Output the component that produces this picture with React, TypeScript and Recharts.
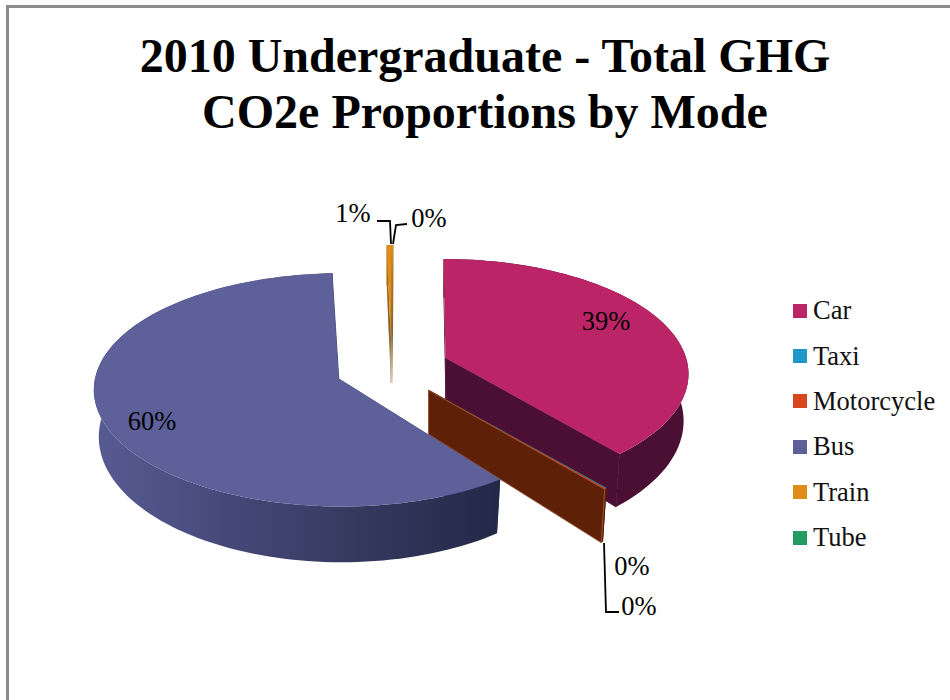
import React from "react";
import { PieChart, Pie, Legend } from "recharts";

// Share of total emissions per travel mode.
const modes = ["Car", "Taxi", "Motorcycle", "Bus", "Train", "Tube"];
const shares = [38.7, 0.1, 0.1, 60.3, 0.6, 0.02];
const swatches = ["#bb2568", "#2196c9", "#d6451b", "#5d6099", "#e08c18", "#239c63"];
const titleLines = ["2010 Undergraduate - Total GHG", "CO2e Proportions by Mode"];

const rows = modes.map((name, i) => ({ name, value: shares[i], fill: swatches[i] }));

const FONT = '"Liberation Serif", serif';
const TILT_Y = 0.474; // vertical squash of the disc
const EXPLODE_X = 57;
const EXPLODE_Y = 29;
const RIM_DROP = 47; // rim ellipse shift between top and bottom of the disc
const APEX_DROP = 44;
const BOTTOM_RX = 0.98;
const BOTTOM_RY = 1.075;

type Look = {
  sx: number; sy: number; rx: number; ry: number; warp: number;
  wall: string; edge?: string; hideFace?: boolean;
  label: [number, number]; leader?: string;
};

// Per-mode drawing style: rim ellipse tweaks, wall colours and label placement.
const looks: Record<string, Look> = {
  Car: { sx: -2, sy: 16, rx: 0.996, ry: 0.986, warp: -0.139, wall: "#4a0f33", label: [606, 321] },
  Taxi: { sx: 0, sy: 14, rx: 1.02, ry: 1.02, warp: -0.12, wall: "#5e2107", label: [632, 566] },
  Motorcycle: {
    sx: 0, sy: 14, rx: 1.025, ry: 1.02, warp: -0.12, wall: "#5e2107", edge: "#a8603f",
    label: [639, 606], leader: "604,543 606,612 619,612",
  },
  Bus: { sx: 3, sy: 11.5, rx: 1.008, ry: 1, warp: 0, wall: "url(#busWall)", label: [152, 421] },
  Train: {
    sx: 1, sy: 0, rx: 0.55, ry: 0.806, warp: 0, wall: "url(#trainWall)",
    label: [353, 213], leader: "377,221 390,221 391,244",
  },
  Tube: {
    sx: 1, sy: 0, rx: 0.55, ry: 0.806, warp: 0, wall: "url(#trainWall)", hideFace: true,
    label: [429, 218], leader: "407,224 396,225 393,244",
  },
};

const rad = (deg: number) => (deg * Math.PI) / 180;

// Unit-circle position of a clockwise-from-top angle, pulled by the perspective warp.
function rimUnit(theta: number, warp: number) {
  const u = Math.sin(rad(theta));
  const v = -Math.cos(rad(theta));
  const d = 1 + warp * v;
  return { u: (u * Math.sqrt(1 - warp * warp)) / d, v: (v + warp) / d };
}

function Slice3D(props: any) {
  const { cx, cy, outerRadius, startAngle, endAngle, name, fill } = props;
  const look = looks[name];
  const from = 90 - startAngle;
  const to = 90 - endAngle;
  const mid = (from + to) / 2;
  const ax = cx + EXPLODE_X * Math.sin(rad(mid));
  const ay = cy - EXPLODE_Y * Math.cos(rad(mid));
  const rx = outerRadius * look.rx;
  const ry = outerRadius * TILT_Y * look.ry;
  const ex = ax + look.sx;
  const ey = ay + look.sy;

  const steps = Math.max(1, Math.ceil((to - from) / 2));
  const top: string[] = [];
  const bottom: string[] = [];
  for (let i = 0; i <= steps; i++) {
    const { u, v } = rimUnit(from + ((to - from) * i) / steps, look.warp);
    top.push(`${ex + rx * u},${ey + ry * v}`);
    bottom.push(`${ex + rx * BOTTOM_RX * u},${ey + RIM_DROP + ry * BOTTOM_RY * v}`);
  }
  const apex = `${ax},${ay}`;
  const apexLow = `${ax},${ay + APEX_DROP}`;
  const rimWall = [...top, ...[...bottom].reverse()].join(" ");
  const cutEnd = [apex, top[top.length - 1], bottom[bottom.length - 1], apexLow].join(" ");
  const cutStart = [apex, top[0], bottom[0], apexLow].join(" ");
  const face = [apex, ...top].join(" ");

  return (
    <g>
      <defs>
        <linearGradient id="busWall" gradientUnits="userSpaceOnUse" x1="95" y1="0" x2="500" y2="0">
          <stop offset="0" stopColor="#585b93" />
          <stop offset="0.3" stopColor="#474a7a" />
          <stop offset="0.6" stopColor="#383b62" />
          <stop offset="1" stopColor="#232848" />
        </linearGradient>
        <linearGradient id="trainWall" gradientUnits="userSpaceOnUse" x1="0" y1="245" x2="0" y2="387">
          <stop offset="0" stopColor="#c47c18" />
          <stop offset="0.6" stopColor="#7d5a24" />
          <stop offset="1" stopColor="#d8cdb6" />
        </linearGradient>
      </defs>
      <polygon points={cutStart} fill={look.wall} />
      <polygon points={rimWall} fill={look.wall} />
      <polygon
        points={cutEnd}
        fill={look.wall}
        stroke={look.edge ?? look.wall}
        strokeWidth={0.8}
      />
      {!look.hideFace && <polygon points={face} fill={fill} />}
    </g>
  );
}

function SliceLabel(props: any) {
  const { name, percent } = props;
  const look = looks[name];
  return (
    <g>
      {look.leader && (
        <polyline points={look.leader} fill="none" stroke="#000" strokeWidth={1.8} />
      )}
      <text
        x={look.label[0]}
        y={look.label[1]}
        textAnchor="middle"
        dominantBaseline="central"
        fontFamily={FONT}
        fontSize={26.5}
        fill="#000"
      >
        {`${Math.round(percent * 100)}%`}
      </text>
    </g>
  );
}

function ModeLegend({ payload }: any) {
  return (
    <div style={{ fontFamily: FONT, fontSize: 26.5, color: "#111" }}>
      {(payload ?? []).map((item: any) => (
        <div key={item.value} style={{ display: "flex", alignItems: "center", height: 45.4 }}>
          <span
            style={{ width: 14, height: 14, background: item.color, marginRight: 6, flex: "none" }}
          />
          <span style={{ whiteSpace: "nowrap" }}>{item.value}</span>
        </div>
      ))}
    </div>
  );
}

export default function App() {
  return (
    <div style={{ position: "absolute", left: 0, top: 0, width: 950, height: 700, background: "#fff" }}>
      <div
        style={{
          position: "absolute", left: 6, top: 5, right: 0, bottom: 0,
          borderLeft: "3px solid #8c8c8c", borderTop: "3px solid #8c8c8c",
        }}
      />
      <PieChart width={950} height={700} margin={{ top: 0, right: 0, bottom: 0, left: 0 }}>
        {titleLines.map((line, i) => (
          <text
            key={line}
            x={485}
            y={72 + i * 56}
            textAnchor="middle"
            fontFamily={FONT}
            fontWeight="bold"
            fontSize={48}
            fill="#000"
          >
            {line}
          </text>
        ))}
        <Pie
          data={rows}
          dataKey="value"
          nameKey="name"
          cx={392}
          cy={368}
          outerRadius={246}
          startAngle={90}
          endAngle={-270}
          stroke="none"
          shape={Slice3D}
          label={SliceLabel}
          labelLine={false}
          isAnimationActive={false}
        />
        <Legend
          layout="vertical"
          align="right"
          verticalAlign="top"
          content={ModeLegend}
          itemSorter={null}
          wrapperStyle={{ left: 793, top: 288, width: 157 }}
        />
      </PieChart>
    </div>
  );
}
